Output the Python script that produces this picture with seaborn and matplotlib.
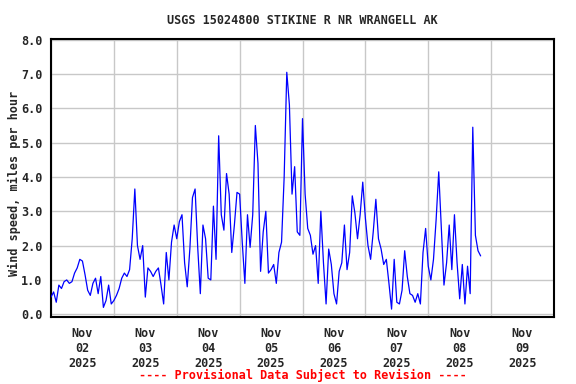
import matplotlib
matplotlib.use("Agg")
import numpy as np
import pandas as pd
import matplotlib.pyplot as plt
import matplotlib.dates as mdates
import matplotlib.ticker as mticker
import seaborn as sns

title = "USGS 15024800 STIKINE R NR WRANGELL AK"
ylabel = "Wind speed, miles per hour"
footer = "---- Provisional Data Subject to Revision ----"
start_time = "2025-11-02 00:00"
x_start = "2025-11-02"
x_end = "2025-11-10"
y_ticks = [0, 1, 2, 3, 4, 5, 6, 7, 8]

# hourly wind speed (mph)
wind = [
    0.5, 0.65, 0.35, 0.85, 0.75, 0.95, 1.0, 0.9, 0.95, 1.2, 1.35, 1.6,
    1.55, 1.15, 0.7, 0.55, 0.9, 1.05, 0.6, 1.1, 0.2, 0.4, 0.85, 0.3,
    0.4, 0.55, 0.75, 1.05, 1.2, 1.1, 1.3, 2.2, 3.65, 2.0, 1.6, 2.0,
    0.5, 1.35, 1.25, 1.1, 1.25, 1.35, 0.85, 0.3, 1.8, 1.0, 2.1, 2.6,
    2.2, 2.7, 2.9, 1.5, 0.8, 1.9, 3.4, 3.65, 1.95, 0.6, 2.6, 2.2,
    1.05, 1.0, 3.15, 1.6, 5.2, 2.9, 2.45, 4.1, 3.5, 1.8, 2.6, 3.55,
    3.5, 2.1, 0.9, 2.9, 1.95, 2.9, 5.5, 4.4, 1.25, 2.4, 3.0, 1.2,
    1.3, 1.45, 0.9, 1.8, 2.1, 4.0, 7.05, 6.1, 3.5, 4.3, 2.4, 2.3,
    5.7, 3.5, 2.5, 2.3, 1.75, 2.0, 0.9, 3.0, 1.5, 0.3, 1.9, 1.45,
    0.6, 0.3, 1.25, 1.5, 2.6, 1.3, 1.8, 3.45, 2.95, 2.2, 2.9, 3.85,
    2.8, 2.0, 1.6, 2.4, 3.35, 2.2, 1.9, 1.45, 1.6, 0.9, 0.15, 1.6,
    0.35, 0.3, 0.7, 1.85, 1.1, 0.6, 0.55, 0.35, 0.6, 0.3, 1.8, 2.5,
    1.4, 1.0, 1.6, 2.75, 4.15, 2.5, 0.85, 1.5, 2.6, 1.3, 2.9, 1.5,
    0.45, 1.45, 0.3, 1.4, 0.6, 5.45, 2.3, 1.85, 1.7,
]

times = pd.date_range(start_time, periods=len(wind), freq="h")
df = pd.DataFrame({"time": times, "wind": wind})

sns.set_style("white")
plt.rcParams["font.family"] = ["DejaVu Sans Mono"]
plt.rcParams["font.weight"] = "bold"

fig = plt.figure(figsize=(5.76, 3.84), dpi=100)
W, H = 576, 384
ax = fig.add_axes([51 / W, 1 - 317 / H, 503 / W, 278 / H])

sns.lineplot(data=df, x="time", y="wind", ax=ax, color="#0000ff",
             linewidth=0.9, zorder=3)

ax.set_xlim(pd.Timestamp(x_start), pd.Timestamp(x_end))
ax.set_ylim(-0.08, 8.02)

ax.xaxis.set_major_locator(mdates.DayLocator())
ax.xaxis.set_major_formatter(mticker.NullFormatter())
ax.xaxis.set_minor_locator(mdates.HourLocator(byhour=12))
ax.xaxis.set_minor_formatter(mdates.DateFormatter("%b\n%d\n%Y"))
ax.set_yticks(y_ticks)
ax.yaxis.set_major_formatter(mticker.FormatStrFormatter("%.1f"))

ax.tick_params(axis="x", which="both", length=0, pad=7, labelsize=8.5)
ax.tick_params(axis="y", length=0, pad=6, labelsize=8.5)
for lab in ax.get_xticklabels(minor=True) + ax.get_yticklabels():
    lab.set_fontweight("bold")

ax.grid(True, which="major", color="#c8c8c8", linewidth=1.0, zorder=0)
ax.set_axisbelow(True)
for s in ax.spines.values():
    s.set_color("black")
    s.set_linewidth(1.5)
    s.set_visible(True)

ax.set_xlabel("")
ax.set_ylabel("")
fig.text((51 + 554) / 2 / W, 1 - 20 / H, title, ha="center", va="center",
         fontsize=8.5, fontweight="bold")
fig.text(14 / W, 1 - 183 / H, ylabel, ha="center", va="center",
         rotation=90, fontsize=8.5, fontweight="bold")
fig.text((51 + 554) / 2 / W, 1 - 375 / H, footer, ha="center", va="center",
         fontsize=8.5, fontweight="bold", color="#ff0000")

fig.savefig("out.png", dpi=100, facecolor="white")
